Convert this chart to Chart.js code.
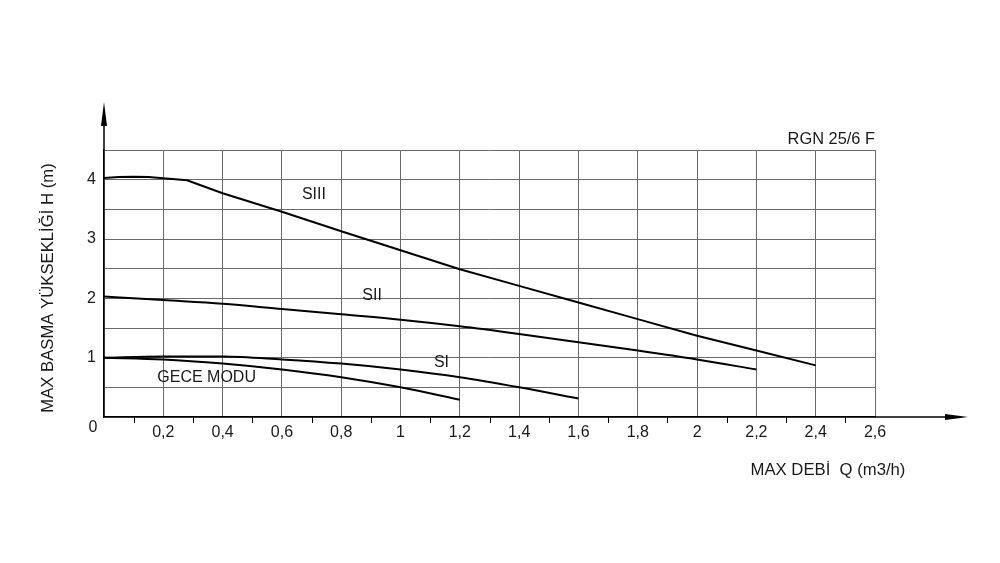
<!DOCTYPE html>
<html>
<head>
<meta charset="utf-8">
<script src="https://cdn.jsdelivr.net/npm/chart.js@4/dist/chart.umd.min.js"></script>
<style>
  html, body { margin: 0; padding: 0; background: #fff; }
  #wrap { width: 1000px; height: 563px; }
</style>
</head>
<body>
<div id="wrap"><canvas id="pump"></canvas></div>
<script>
// pump curves, Q in m3/h, H in m
const q_SIII = [0, 0.05, 0.1, 0.15, 0.2, 0.28, 0.4, 0.6, 0.8, 1.0, 1.2, 1.4, 1.6, 1.8, 2.0, 2.2, 2.4]
const h_SIII = [4.03, 4.045, 4.05, 4.045, 4.025, 3.99, 3.77, 3.46, 3.13, 2.81, 2.49, 2.21, 1.93, 1.65, 1.37, 1.12, 0.87]

const q_SII = [0, 0.2, 0.4, 0.6, 0.8, 1.0, 1.2, 1.4, 1.6, 1.8, 2.0, 2.2]
const h_SII = [2.03, 1.97, 1.91, 1.82, 1.73, 1.64, 1.53, 1.40, 1.26, 1.12, 0.97, 0.80]

const q_SI = [0, 0.2, 0.4, 0.6, 0.8, 1.0, 1.2, 1.4, 1.6]
const h_SI = [1.0, 1.02, 1.02, 0.97, 0.90, 0.80, 0.67, 0.50, 0.31]

const q_gece = [0, 0.2, 0.4, 0.6, 0.8, 1.0, 1.2]
const h_gece = [1.0, 0.97, 0.90, 0.80, 0.67, 0.50, 0.29]

// curve names and where they sit (data coords)
const curveLabels = ['SIII', 'SII', 'SI', 'GECE MODU']
const labelQ = [0.708, 0.904, 1.138, 0.346]
const labelH = [3.74, 2.05, 0.92, 0.66]

const modelName = 'RGN 25/6 F'
const xTitle = 'MAX DEBİ  Q (m3/h)'
const yTitle = 'MAX BASMA YÜKSEKLİĞİ H (m)'

const FONT = '"Liberation Sans", Arial, sans-serif'
const INK = '#1a1a1a'

function points(qs, hs) {
    let pts = []
    qs.forEach(function (q, i) {
        pts.push({x: q, y: hs[i]})
    })
    return pts
}

function curve(qs, hs, smooth) {
    let ds = {
        data: points(qs, hs),
        borderColor: '#000',
        borderWidth: 2,
        pointRadius: 0,
        fill: false,
        tension: 0
    }
    if (smooth) ds.cubicInterpolationMode = 'monotone'
    return ds
}

function commaNum(v) {
    return String(Math.round(v * 10) / 10).replace('.', ',')
}

// arrows, minor ticks and the loose texts
const decorations = {
    id: 'decorations',
    afterDraw(chart) {
        const ctx = chart.ctx
        const a = chart.chartArea
        const xs = chart.scales.x
        const ys = chart.scales.y
        ctx.save()
        ctx.strokeStyle = '#000'
        ctx.fillStyle = '#000'
        ctx.lineWidth = 1.5

        // y axis arrow
        ctx.beginPath()
        ctx.moveTo(a.left, a.top)
        ctx.lineTo(a.left, a.top - 30)
        ctx.stroke()
        ctx.beginPath()
        ctx.moveTo(a.left, a.top - 48)
        ctx.lineTo(a.left - 3, a.top - 24)
        ctx.lineTo(a.left + 3, a.top - 24)
        ctx.closePath()
        ctx.fill()

        // x axis arrow
        ctx.beginPath()
        ctx.moveTo(a.right, a.bottom)
        ctx.lineTo(a.right + 72, a.bottom)
        ctx.stroke()
        ctx.beginPath()
        ctx.moveTo(a.right + 93, a.bottom)
        ctx.lineTo(a.right + 70, a.bottom - 3)
        ctx.lineTo(a.right + 70, a.bottom + 3)
        ctx.closePath()
        ctx.fill()

        // minor ticks every 0.1 below the x axis
        ctx.lineWidth = 1
        for (let k = 1; k < 26; k += 2) {
            const px = Math.round(xs.getPixelForValue(k / 10)) + 0.5
            ctx.beginPath()
            ctx.moveTo(px, a.bottom)
            ctx.lineTo(px, a.bottom + 6)
            ctx.stroke()
        }

        ctx.fillStyle = INK
        ctx.font = '16px ' + FONT
        ctx.textBaseline = 'middle'

        // curve names
        ctx.textAlign = 'center'
        curveLabels.forEach(function (txt, i) {
            ctx.fillText(txt, xs.getPixelForValue(labelQ[i]), ys.getPixelForValue(labelH[i]))
        })

        // origin zero
        ctx.fillText('0', a.left - 11, a.bottom + 11)

        // model name top right
        ctx.font = '16.4px ' + FONT
        ctx.textAlign = 'right'
        ctx.fillText(modelName, a.right, a.top - 11)

        // axis titles
        ctx.font = '16.7px ' + FONT
        ctx.textAlign = 'center'
        ctx.fillText(xTitle, 828, a.bottom + 53)
        ctx.translate(48, 288)
        ctx.rotate(-Math.PI / 2)
        ctx.fillText(yTitle, 0, 0)
        ctx.restore()
    }
}

const config = {
    type: 'line',
    data: {
        datasets: [
            curve(q_SIII, h_SIII, false),
            curve(q_SII, h_SII, true),
            curve(q_SI, h_SI, true),
            curve(q_gece, h_gece, true)
        ]
    },
    options: {
        responsive: true,
        maintainAspectRatio: false,
        animation: false,
        layout: { padding: { top: 150, right: 125, left: 0, bottom: 0 } },
        plugins: {
            legend: { display: false },
            tooltip: { enabled: false }
        },
        scales: {
            x: {
                type: 'linear',
                min: 0,
                max: 2.6,
                afterFit: function (s) { s.height = 146 },
                grid: { color: '#6a6a6a', lineWidth: 1, drawTicks: false },
                border: { color: '#000', width: 1.5 },
                ticks: {
                    stepSize: 0.2,
                    padding: 6,
                    color: INK,
                    font: { family: FONT, size: 16 },
                    maxRotation: 0,
                    autoSkip: false,
                    callback: function (v) { return v === 0 ? '' : commaNum(v) }
                }
            },
            y: {
                type: 'linear',
                min: 0,
                max: 4.5,
                afterFit: function (s) { s.width = 104 },
                grid: { color: '#6a6a6a', lineWidth: 1, drawTicks: false },
                border: { color: '#000', width: 1.5 },
                ticks: {
                    stepSize: 0.5,
                    padding: 8,
                    color: INK,
                    font: { family: FONT, size: 16 },
                    autoSkip: false,
                    callback: function (v) {
                        return (v > 0 && Number.isInteger(v)) ? String(v) : ''
                    }
                }
            }
        }
    },
    plugins: [decorations]
}

new Chart(document.getElementById('pump'), config)
</script>
</body>
</html>
